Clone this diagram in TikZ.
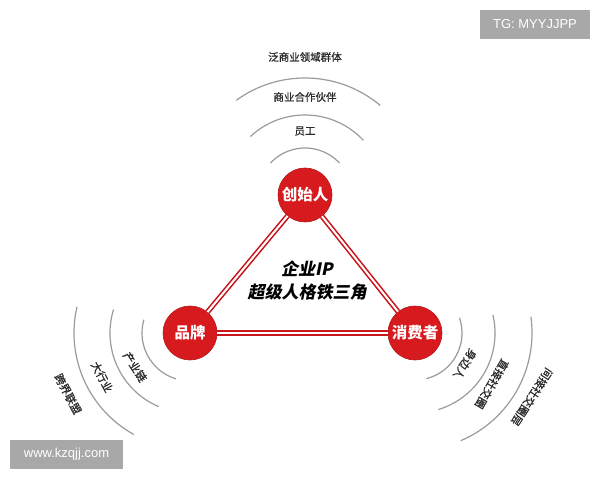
\documentclass[tikz,border=0pt]{standalone}
\usepackage{fontspec}
\setmainfont{Liberation Sans}
\newfontfamily\cjk{Noto Sans CJK SC}
\newfontfamily\cjklab{Noto Sans CJK SC}[FakeBold=0.8]
\newfontfamily\cjkslant{Noto Sans CJK SC}[FakeSlant=0.2]
\newfontfamily\wmfont{Liberation Sans}
\definecolor{hubred}{RGB}{214,26,30}
\definecolor{linkred}{RGB}{200,22,28}
\definecolor{ringgray}{RGB}{155,155,155}
\definecolor{labgray}{RGB}{40,40,40}
\definecolor{wmgray}{RGB}{168,168,168}
\begin{document}
\begin{tikzpicture}[x=1pt,y=1pt,
  hub/.style={circle,fill=hubred,draw=hubred!85!black,line width=0.6pt,minimum size=54pt,inner sep=0pt,text=white,font=\cjk\bfseries\fontsize{15.5}{15.5}\selectfont},
  link/.style={draw=linkred,line width=1.6pt,double=white,double distance=2pt},
  ring/.style={draw=ringgray,line width=1.2pt},
  lab/.style={font=\cjklab\fontsize{10.5}{10.5}\selectfont,text=labgray,inner sep=1pt},
  sidelab/.style={font=\cjklab\fontsize{11}{11}\selectfont,text=labgray,inner sep=0pt},
  wm/.style={fill=wmgray,text=white,font=\wmfont\fontsize{13}{13}\selectfont,inner sep=0pt}]
\useasboundingbox (0,0) rectangle (600,480);
\fill[white] (0,0) rectangle (600,480);

% hubs
\node[hub] (F) at (305,285) {创始人};
\node[hub] (B) at (190,147) {品牌};
\node[hub] (C) at (415,147) {消费者};

% triangle links
\draw[link] (F) -- (B);
\draw[link] (F) -- (C);
\draw[link] (B) -- (C);

% centre text
\node[font=\cjkslant\bfseries\fontsize{17}{23}\selectfont,align=center,text=black] (T) at (307,199) {企业IP\\超级人格铁三角};

% top arcs
\draw[ring] (F.center) ++(43:47pt) arc[start angle=43,end angle=137,radius=47pt];
\draw[ring] (F.center) ++(43:80pt) arc[start angle=43,end angle=133,radius=80pt];
\draw[ring] (F.center) ++(50:117pt) arc[start angle=50,end angle=126,radius=117pt];
\node[lab] (t1) at (305,349) {员工};
\node[lab] (t2) at (305,383) {商业合作伙伴};
\node[lab] (t3) at (305,423) {泛商业领域群体};

% left arcs
\draw[ring] (B.center) ++(164:48pt) arc[start angle=164,end angle=253,radius=48pt];
\draw[ring] (B.center) ++(163:80pt) arc[start angle=163,end angle=247,radius=80pt];
\draw[ring] (B.center) ++(167:116pt) arc[start angle=167,end angle=241,radius=116pt];
\node[sidelab,rotate=-57] (l1) at (135,113) {产业链};
\node[sidelab,rotate=-62] (l2) at (102,103) {大行业};
\node[sidelab,rotate=-62] (l3) at (68,86) {跨界联盟};

% right arcs
\draw[ring] (C.center) ++(-76:47pt) arc[start angle=-76,end angle=19,radius=47pt];
\draw[ring] (C.center) ++(-73:80pt) arc[start angle=-73,end angle=13,radius=80pt];
\draw[ring] (C.center) ++(-67:117pt) arc[start angle=-67,end angle=8,radius=117pt];
\node[sidelab,rotate=-122] (r1) at (465,116) {身边人};
\node[sidelab,rotate=-120] (r2) at (492,96) {直接社交圈};
\node[sidelab,rotate=-123] (r3) at (532,83) {间接社交圈层};

% watermarks
\node[wm,minimum width=110pt,minimum height=29pt] (w1) at (535,455.5) {TG: MYYJJPP};
\node[wm,minimum width=113pt,minimum height=29pt] (w2) at (66.5,25.5) {www.kzqjj.com};
\end{tikzpicture}
\end{document}
